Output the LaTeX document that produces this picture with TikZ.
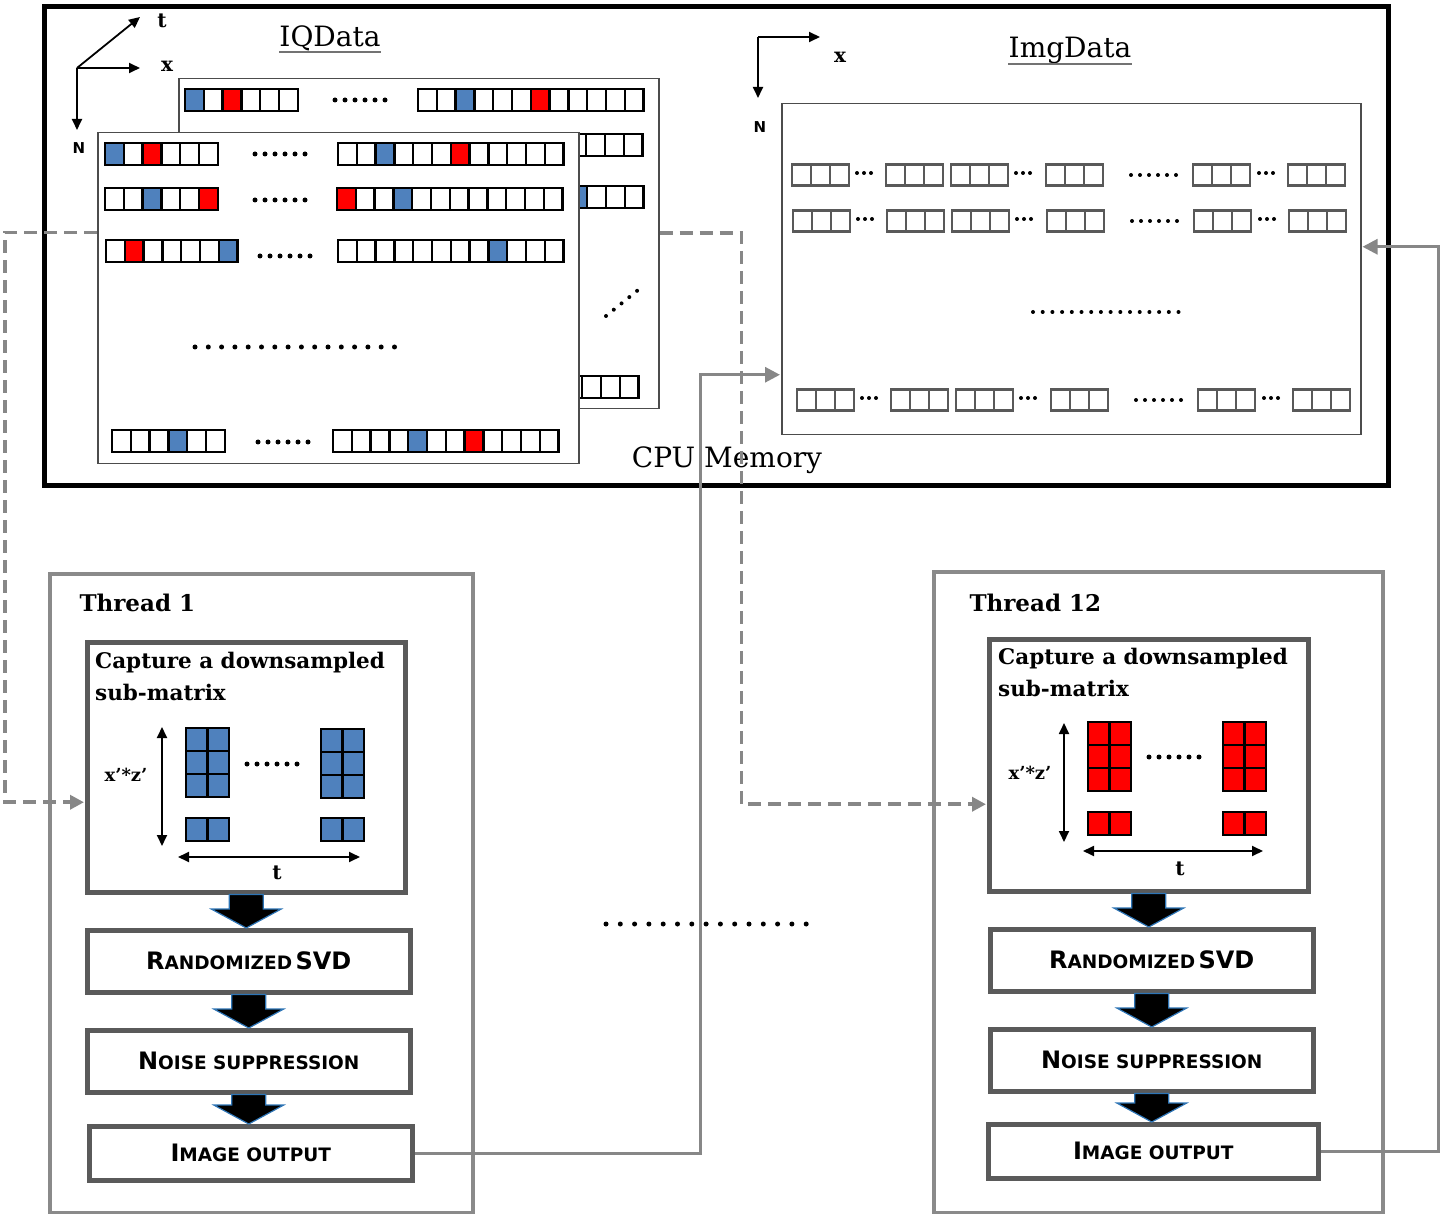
\documentclass[tikz,border=0pt]{standalone}
\usepackage{fontspec}
\setmainfont{DejaVu Serif}
\newfontfamily\capsfont{DejaVu Sans}
\usetikzlibrary{arrows.meta,calc}

\definecolor{cellblue}{HTML}{4F81BD}
\definecolor{cellred}{HTML}{FF0000}
\definecolor{wiregray}{HTML}{878787}
\definecolor{framegray}{HTML}{8A8A8A}
\definecolor{boxgray}{HTML}{5A5A5A}
\definecolor{arrowblue}{HTML}{2E75B6}

\tikzset{
    %Define style for memory cells
    cellbox/.style={
           rectangle,
           draw=black, line width=2.4pt,
           fill=white,
           minimum width=18.8pt, minimum height=22pt,
           inner sep=0pt},
    imgcell/.style={cellbox, draw=black!65, line width=2.2pt,
           minimum width=19pt, minimum height=21pt},
    subcell/.style={cellbox, minimum width=21.5pt, minimum height=23pt},
    % Define style for sheets and boxes
    sheet/.style={
           rectangle,
           draw=black!70, line width=1.5pt,
           fill=white, inner sep=0pt,
           anchor=north west},
    threadbox/.style={rectangle, draw=framegray, line width=3.5pt,
           inner sep=0pt, anchor=north west},
    stepbox/.style={
           rectangle,
           draw=boxgray, line width=4.5pt,
           fill=white, inner sep=0pt,
           anchor=north west,
           font=\capsfont\bfseries},
    % Define arrow style
    dashflow/.style={
           draw=wiregray, line width=3.8pt,
           dash pattern=on 13pt off 7pt,
           -{Triangle[length=14pt,width=14pt]},
           shorten >=1pt},
    flow/.style={
           draw=wiregray, line width=3pt,
           -{Triangle[length=15pt,width=15pt]},
           shorten >=1pt},
    axis/.style={line width=1.8pt, -{Triangle[length=11pt,width=10pt]}},
    bothaxis/.style={line width=1.8pt,
           {Triangle[length=11pt,width=10pt]}-{Triangle[length=11pt,width=10pt]}},
    bigarrow/.style={fill=black, draw=arrowblue, line width=1.2pt},
    dotline/.style={line width=5pt, line cap=round, dash pattern=on 0pt off #1},
    dotline/.default=10pt
}

\newcommand*{\titlefont}{\fontsize{28}{32}\selectfont}
\newcommand*{\threadfont}{\fontsize{23}{28}\selectfont\bfseries}
\newcommand*{\capfont}{\fontsize{21.5}{32}\selectfont\bfseries}
\newcommand*{\labelfont}{\fontsize{20}{22}\selectfont\bfseries}
\newcommand*{\axisnfont}{\capsfont\fontsize{15}{15}\selectfont\bfseries}
\newcommand*{\capbig}{\fontsize{24}{26}\selectfont}
\newcommand*{\capsmall}{\fontsize{18.5}{22}\selectfont}
\newcommand*{\smcap}[2]{{\capbig #1}{\capsmall #2}}

% a row of memory cells: name, left x, centre y, count, coloured cells
\newcommand*{\cellrow}[5]{%
  \foreach \i in {1,...,#4}
    \node[cellbox] (#1-\i) at ({#2+(\i-0.5)*18.8},#3) {};
  \foreach \i/\col in {#5}
    \node[cellbox, fill=\col] (#1-\i) at ({#2+(\i-0.5)*18.8},#3) {};
}
% one row of the image: name, left x, centre y
\newcommand*{\imgrow}[3]{%
  \foreach \g/\dx in {1/0,2/94,3/159,4/254,5/401,6/496}
    \foreach \i in {1,2,3}
      \node[imgcell] (#1-\g-\i) at ({#2+\dx+(\i-0.5)*19},#3) {};
  \draw[dotline=7pt, line width=4pt] ({#2+65},{#3-2}) -- ({#2+79.5},{#3-2});
  \draw[dotline=7pt, line width=4pt] ({#2+224},{#3-2}) -- ({#2+238.5},{#3-2});
  \draw[dotline=7pt, line width=4pt] ({#2+467},{#3-2}) -- ({#2+481.5},{#3-2});
  \draw[dotline=9pt, line width=4pt] ({#2+339},#3) -- ({#2+384.5},#3);
}
% the rows of one IQ sheet
\newcommand*{\iqrows}{%
  \cellrow{ra}{105}{154}{6}{1/cellblue,3/cellred}
  \draw[dotline] (255,154) -- (305.5,154);
  \cellrow{rb}{338}{154}{12}{3/cellblue,7/cellred}
  \cellrow{sa}{105}{199}{6}{3/cellblue,6/cellred}
  \draw[dotline] (255,200) -- (305.5,200);
  \cellrow{sb}{337}{199}{12}{1/cellred,4/cellblue}
  \cellrow{ua}{106}{251}{7}{2/cellred,7/cellblue}
  \draw[dotline] (260,256) -- (310.5,256);
  \cellrow{ub}{338}{251}{12}{9/cellblue}
  \cellrow{va}{112}{441}{6}{4/cellblue}
  \draw[dotline] (258,442) -- (308.5,442);
  \cellrow{vb}{333}{441}{12}{5/cellblue,8/cellred}
}
% a 2-column block of the sub-matrix: name, left x, top y, rows, colour
\newcommand*{\subblock}[5]{%
  \foreach \r in {1,...,#4}
    \foreach \k in {1,2}
      \node[subcell, fill=#5] (#1-\r-\k) at ({#2+(\k-0.5)*21.5},{#3+(\r-0.5)*23}) {};
}
% thick block arrow between two steps
\newcommand*{\bigdown}[2]{%
  \filldraw[bigarrow] let \p1=(#1.south), \p2=(#2.north) in
    (\x1-17pt,\y1) -- (\x1+17pt,\y1) -- (\x1+17pt,\y2+19pt) -- (\x1+35pt,\y2+19pt)
    -- (\x1,\y2) -- (\x1-35pt,\y2+19pt) -- (\x1-17pt,\y2+19pt) -- cycle;
}

\begin{document}
\begin{tikzpicture}[x=1pt,y=-1pt]
\useasboundingbox (0,0) rectangle (1441,1214);

% First the CPU memory frame
\node[draw=black, line width=5pt, inner sep=0pt, anchor=north west,
      minimum width=1344pt, minimum height=479pt] (cpu) at (42,4) {};

% IQData: axes, title, back sheet and front sheet
\coordinate (iqo) at (77,68);
\draw[axis] (iqo) -- ++(63,0);
\draw[axis] (iqo) -- ++(0,62);
\draw[axis] (iqo) -- ++(63,-51);
\node[font=\labelfont] (iqx) at (167,66) {x};
\node[font=\labelfont] (iqt) at (162,21) {t};
\node[font=\axisnfont] (iqn) at (79,148) {N};
\node[font=\titlefont, inner sep=0pt] (iqtitle) at (330,38) {IQData};
\draw[black!55, line width=1.5pt] ($(iqtitle.base west)+(0,6)$) -- ($(iqtitle.base east)+(0,6)$);

\node[sheet, minimum width=480pt, minimum height=330pt] (iqb) at (178,78) {};
\begin{scope}[shift={(80,-54)}, name prefix=bk-]
  \iqrows
\end{scope}
\draw[dotline=10pt, line width=4pt] (606,316) -- (643,286);

\node[sheet, minimum width=481pt, minimum height=331pt] (iqf) at (97,132) {};
\iqrows
\draw[dotline=13.3pt] (195,347) -- (395.5,347);

% ImgData: axes, title and the image rows
\coordinate (imo) at (758,37);
\draw[axis] (imo) -- ++(62,0);
\draw[axis] (imo) -- ++(0,61);
\node[font=\labelfont] (imx) at (840,57) {x};
\node[font=\axisnfont] (imn) at (760,127) {N};
\node[font=\titlefont, inner sep=0pt] (imtitle) at (1070,50) {ImgData};
\draw[black!55, line width=1.5pt] ($(imtitle.base west)+(0,7)$) -- ($(imtitle.base east)+(0,7)$);

\node[sheet, draw=black!70, minimum width=579pt, minimum height=331pt] (img) at (781,103) {};
\imgrow{ia}{792}{175}
\imgrow{ib}{793}{221}
\imgrow{ic}{797}{400}
\draw[dotline=9.7pt, line width=4pt] (1033,312) -- (1179,312);

\node[font=\titlefont] (cpulabel) at (727,460) {CPU Memory};

% Now the first thread
\node[threadbox, minimum width=423pt, minimum height=639pt] (th1) at (48,572) {};
\node[font=\threadfont, anchor=west] (th1title) at (76,603) {Thread 1};
\node[stepbox, minimum width=318pt, minimum height=250pt] (cap1) at (85,640) {};
\node[font=\capfont, anchor=north west, align=left, inner sep=0pt] (cap1text) at (95,652)
     {Capture a downsampled\\sub-matrix};
\subblock{b1}{186}{728}{3}{cellblue}
\subblock{b2}{186}{818}{1}{cellblue}
\subblock{b3}{321}{729}{3}{cellblue}
\subblock{b4}{321}{818}{1}{cellblue}
\draw[dotline] (247,764) -- (297.5,764);
\coordinate (v1top) at (162,727);
\coordinate (v1bot) at (162,846);
\draw[bothaxis] (v1top) -- (v1bot);
\node[font=\labelfont\fontsize{18}{20}\selectfont] (v1lab) at (126,775) {x’*z’};
\coordinate (h1left) at (178,857);
\coordinate (h1right) at (360,857);
\draw[bothaxis] (h1left) -- (h1right);
\node[font=\labelfont] (h1lab) at (277,873) {t};

\node[stepbox, minimum width=323pt, minimum height=62pt] (svd1) at (85,928)
     {\smcap{R}{ANDOMIZED} {\capbig SVD}};
\node[stepbox, minimum width=323pt, minimum height=62pt] (noise1) at (85,1028)
     {\smcap{N}{OISE SUPPRESSION}};
\node[stepbox, minimum width=323pt, minimum height=54pt] (out1) at (87,1124)
     {\smcap{I}{MAGE OUTPUT}};
\bigdown{cap1}{svd1}
\bigdown{svd1}{noise1}
\bigdown{noise1}{out1}

% the dots between the threads
\draw[dotline=14.3pt] (606,924) -- (806.5,924);

% Now the last thread
\node[threadbox, minimum width=449pt, minimum height=641pt] (th12) at (932,570) {};
\node[font=\threadfont, anchor=west] (th12title) at (966,603) {Thread 12};
\node[stepbox, minimum width=319pt, minimum height=252pt] (cap12) at (987,637) {};
\node[font=\capfont, anchor=north west, align=left, inner sep=0pt] (cap12text) at (998,648)
     {Capture a downsampled\\sub-matrix};
\subblock{r1}{1088}{722}{3}{cellred}
\subblock{r2}{1088}{812}{1}{cellred}
\subblock{r3}{1223}{722}{3}{cellred}
\subblock{r4}{1223}{812}{1}{cellred}
\draw[dotline] (1149,757) -- (1199.5,757);
\coordinate (v12top) at (1064,723);
\coordinate (v12bot) at (1064,842);
\draw[bothaxis] (v12top) -- (v12bot);
\node[font=\labelfont\fontsize{18}{20}\selectfont] (v12lab) at (1030,773) {x’*z’};
\coordinate (h12left) at (1083,851);
\coordinate (h12right) at (1263,851);
\draw[bothaxis] (h12left) -- (h12right);
\node[font=\labelfont] (h12lab) at (1180,869) {t};

\node[stepbox, minimum width=323pt, minimum height=62pt] (svd12) at (988,927)
     {\smcap{R}{ANDOMIZED} {\capbig SVD}};
\node[stepbox, minimum width=323pt, minimum height=62pt] (noise12) at (988,1027)
     {\smcap{N}{OISE SUPPRESSION}};
\node[stepbox, minimum width=330pt, minimum height=54pt] (out12) at (986,1122)
     {\smcap{I}{MAGE OUTPUT}};
\bigdown{cap12}{svd12}
\bigdown{svd12}{noise12}
\bigdown{noise12}{out12}

% Finally connect the sheets, the threads and the image
\coordinate (lsrc) at ($(iqf.north west)!0.302!(iqf.south west)$);
\coordinate (cap1in) at ($(cap1.west)+(0,35)$);
\draw[dashflow] (lsrc) -- ++(-92,0) |- (cap1in);

\coordinate (rsrc) at ($(iqb.north east)!0.467!(iqb.south east)$);
\coordinate (cap12in) at ($(cap12.west)+(0,39)$);
\draw[dashflow] (rsrc) -- ++(82,0) |- (cap12in);

\coordinate (imgin) at ($(img.west)+(0,105.5)$);
\draw[flow] (out1.east) -- ++(286,0) |- (imgin);

\coordinate (imgback) at ($(img.east)+(0,-22.5)$);
\draw[flow] (out12.east) -- ++(118,0) |- (imgback);
\end{tikzpicture}
\end{document}
